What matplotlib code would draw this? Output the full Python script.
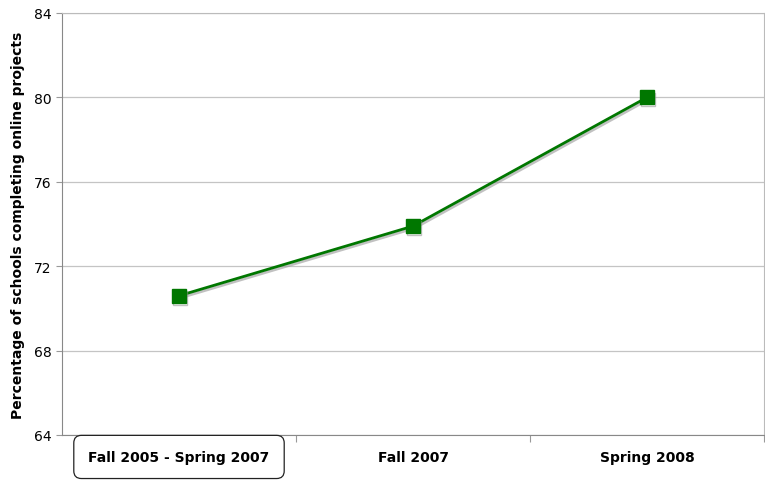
import matplotlib
matplotlib.use("Agg")
import matplotlib.pyplot as plt
import matplotlib.patheffects as pe

# Data
periods = ["Fall 2005 - Spring 2007", "Fall 2007", "Spring 2008"]
pct_online = [70.6, 73.9, 80.0]
y_ticks = [64, 68, 72, 76, 80, 84]

fig = plt.figure(figsize=(7.65, 4.81), dpi=100)
ax = fig.add_axes([62 / 765, 45 / 481, 702 / 765, 422 / 481])

x = list(range(len(periods)))
shadow = [pe.SimpleLineShadow(offset=(1, -1.5), shadow_color="#999999", alpha=0.6), pe.Normal()]
ax.plot(x, pct_online, color="#007700", linewidth=2, marker="s", markersize=10,
        markerfacecolor="#007700", markeredgecolor="#007700", path_effects=shadow)

ax.set_xlim(-0.5, len(periods) - 0.5)
ax.set_ylim(64, 84)
ax.set_yticks(y_ticks)
ax.set_yticklabels([str(t) for t in y_ticks], fontsize=10)
ax.yaxis.grid(True, color="#c4c4c4", linewidth=0.9)
ax.set_axisbelow(True)

# category labels between separator ticks
ax.set_xticks([i + 0.5 for i in x[:-1]] + [len(periods) - 0.5])
ax.set_xticklabels([])
ax.tick_params(axis="x", length=5, color="#999999", direction="out")
ax.tick_params(axis="y", length=4, color="#999999", direction="out")
for i, p in enumerate(periods):
    bbox = None
    if i == 0:
        bbox = dict(boxstyle="round,pad=1.05,rounding_size=0.55", facecolor="white",
                    edgecolor="#222222", linewidth=0.9)
    ax.text(i, -0.052, p, transform=ax.get_xaxis_transform(), ha="center", va="center",
            fontsize=10, fontweight="bold", bbox=bbox)

ax.set_ylabel("Percentage of schools completing online projects", fontsize=10,
              fontweight="bold", labelpad=6)

for s in ["top", "right"]:
    ax.spines[s].set_color("#bbbbbb")
for s in ["left", "bottom"]:
    ax.spines[s].set_color("#888888")

fig.savefig("out.png", dpi=100)
